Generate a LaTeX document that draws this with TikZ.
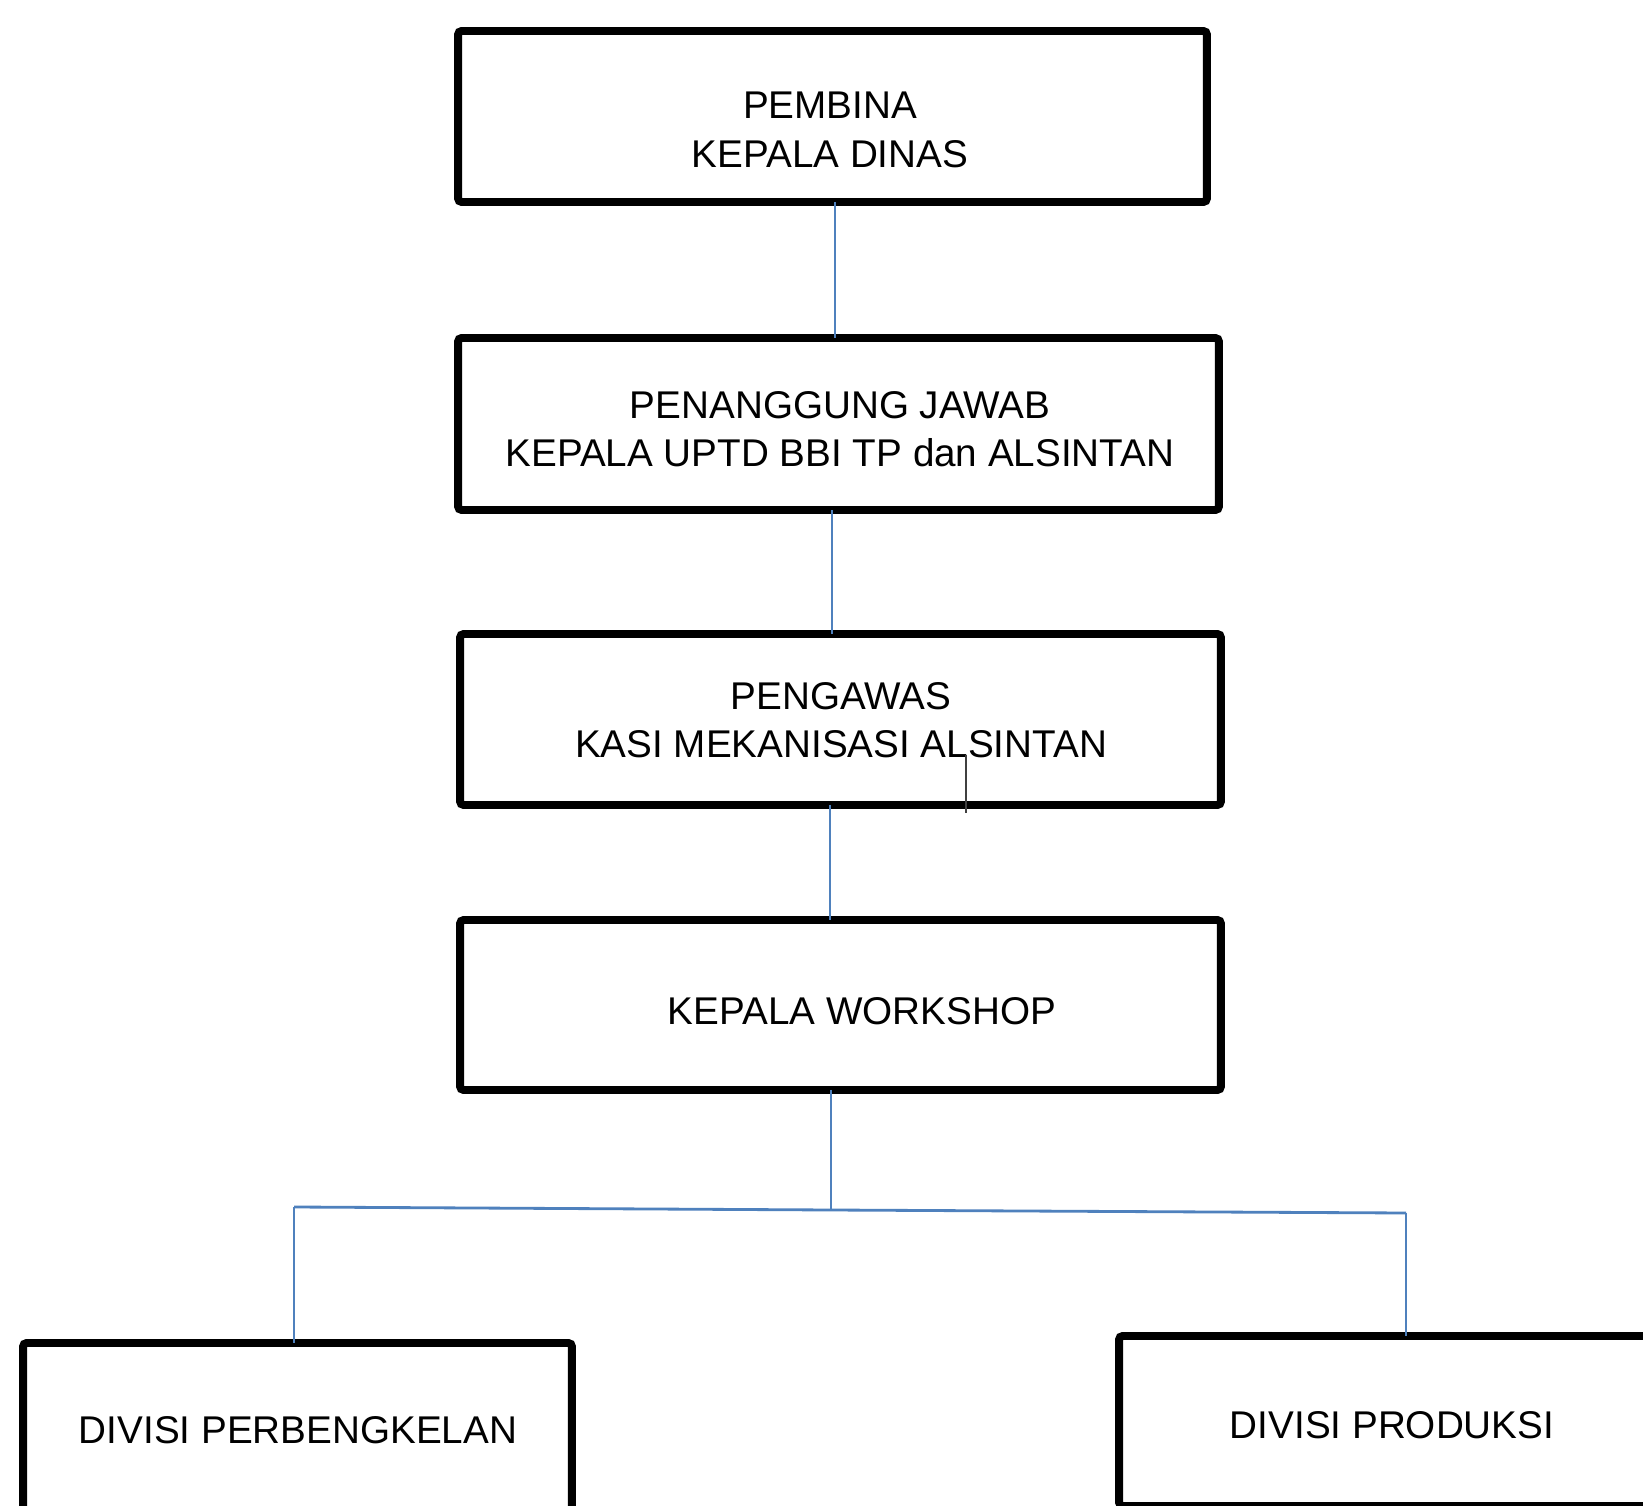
\documentclass[tikz,border=0pt]{standalone}
\usepackage{fontspec}
\setmainfont{Liberation Sans}
\definecolor{linkblue}{RGB}{79,129,189}
\begin{document}
\begin{tikzpicture}[x=0.02cm,y=-0.02cm,
  orgbox/.style={draw=black, line width=4.5pt, rounded corners=2pt, fill=white,
    inner sep=0pt, outer sep=0pt},
  plain/.style={align=center, inner sep=0pt, font=\fontsize{22}{27.5}\selectfont},
  link/.style={draw=linkblue, line width=1.6pt}]
\useasboundingbox (0,0) rectangle (1643,1506);
\clip (0,0) rectangle (1643,1506);
\fill[white] (0,0) rectangle (1643,1506);
\coordinate (j0) at (831,1210);
\coordinate (jl) at (294,1207);
\coordinate (jr) at (1406,1213);
% boxes
\node[orgbox, minimum width=14.98cm, minimum height=3.42cm] (b1) at (832.5,116.5) {};
\node[orgbox, minimum width=15.22cm, minimum height=3.44cm] (b2) at (838.5,424) {};
\node[orgbox, minimum width=15.22cm, minimum height=3.42cm] (b3) at (840.5,719.5) {};
\node[orgbox, minimum width=15.22cm, minimum height=3.40cm] (b4) at (840.5,1005) {};
\node[orgbox, minimum width=10.98cm, minimum height=3.40cm] (b5) at (297.5,1428) {};
\node[orgbox, minimum width=10.62cm, minimum height=3.40cm] (b6) at (1384.5,1421) {};
% texts
\node[plain] (t1) at (830,130) {PEMBINA\\KEPALA DINAS};
\node[plain] (t2) at (840,429) {PENANGGUNG JAWAB\\KEPALA UPTD BBI TP dan ALSINTAN};
\node[plain] (t3) at (841,720) {PENGAWAS\\KASI MEKANISASI ALSINTAN};
\node[plain] (t4) at (862,1011) {KEPALA WORKSHOP};
\node[plain] (t5) at (298,1430) {DIVISI PERBENGKELAN};
\node[plain] (t6) at (1392,1425) {DIVISI PRODUKSI};
% connectors
\draw[link] (b1.south -| 835,0) -- (b2.north -| 835,0);
\draw[link] (b2.south -| 832,0) -- (b3.north -| 832,0);
\draw[link] (b3.south -| 830,0) -- (b4.north -| 830,0);
\draw[link] (b4.south -| j0) -- (j0);
\draw[link] (jl) -- (j0) -- (jr);
\draw[link] (jl) -- (b5.north -| jl);
\draw[link] (jr) -- (b6.north -| jr);
% stray cursor tick
\coordinate (tk1) at (966,755);
\coordinate (tk2) at (966,813);
\draw[black!75, line width=0.8pt] (tk1) -- (tk2);
\end{tikzpicture}
\end{document}
